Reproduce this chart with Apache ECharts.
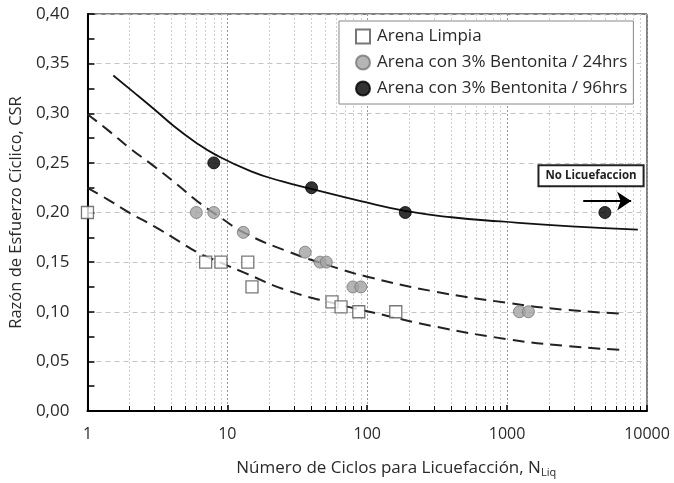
<!DOCTYPE html>
<html>
<head>
<meta charset="utf-8">
<script src="https://cdn.jsdelivr.net/npm/echarts@6/dist/echarts.min.js"></script>
<style>
  html, body { margin: 0; padding: 0; background: #fff; }
  #chart { width: 674px; height: 483px; }
</style>
</head>
<body>
<div id="chart"></div>
<script>
// Test results: [N cycles to liquefaction, CSR]
const arenaLimpia = [[1, 0.20], [7, 0.15], [9, 0.15], [14, 0.15], [15, 0.125], [56, 0.11], [65, 0.105], [87, 0.10], [160, 0.10]];
const bentonita24 = [[6, 0.20], [8, 0.20], [13, 0.18], [36, 0.16], [46, 0.15], [51, 0.15], [79, 0.125], [90, 0.125], [1225, 0.10], [1420, 0.10]];
const bentonita96 = [[8, 0.25], [40, 0.225], [187, 0.20], [5000, 0.20]];

// Trend curves
const curve96 = [[1.53, 0.338], [2.18, 0.3203], [3.03, 0.3035], [4.2, 0.2864], [5.84, 0.2714], [8.1, 0.2588], [14.8, 0.2415], [24.7, 0.2313], [40.5, 0.2235], [90, 0.2114], [187, 0.2016], [400, 0.1952], [900, 0.191], [2870, 0.186], [8600, 0.1827]];
const curve24 = [[1, 0.299], [1.4, 0.283], [2, 0.265], [3, 0.2465], [4.4, 0.228], [6.1, 0.2114], [9, 0.1947], [13.2, 0.1796], [26.8, 0.161], [55, 0.146], [100, 0.1353], [300, 0.1205], [1000, 0.109], [2600, 0.102], [7000, 0.098]];
const curveLimpia = [[1, 0.2248], [1.4, 0.213], [2, 0.1997], [3, 0.186], [4.4, 0.172], [6.1, 0.160], [9, 0.1494], [13.2, 0.1394], [26.8, 0.1215], [58, 0.1085], [140, 0.0958], [290, 0.0857], [1000, 0.0724], [2600, 0.0656], [7000, 0.0613]];

// "No Licuefaccion" arrow and label anchor
const arrowFrom = [3500, 0.2115];
const arrowTo = [7700, 0.2115];
const noLiqLabelAt = [3980, 0.237];

const seriesNames = ['Arena Limpia', 'Arena con 3% Bentonita / 24hrs', 'Arena con 3% Bentonita / 96hrs'];
const xTickLabels = { 1: '1', 10: '10', 100: '100', 1000: '1000', 10000: '10000' };

const FONT = 'Open Sans';
const INK = '#2a2a2a';
const chart = echarts.init(document.getElementById('chart'), null, { renderer: 'canvas' });

const dashed = { color: '#222', width: 2, type: [12, 7] };

chart.setOption({
  animation: false,
  backgroundColor: '#fff',
  textStyle: { fontFamily: FONT },
  grid: { left: 86, right: 27, top: 14, bottom: 71, show: true, borderColor: '#000', borderWidth: 1, backgroundColor: 'transparent' },
  legend: {
    left: 339, top: 21, orient: 'vertical',
    padding: [6, 6, 6, 16],
    itemGap: 7, itemWidth: 14, itemHeight: 14,
    backgroundColor: '#fff', borderColor: '#888', borderWidth: 1,
    textStyle: { fontFamily: FONT, fontSize: 17, lineHeight: 19, color: INK, padding: [0, 0, 0, 2] },
    data: seriesNames
  },
  xAxis: {
    type: 'log', logBase: 10, min: 1, max: 10000,
    name: 'Número de Ciclos para Licuefacción, {sub|N}{s|Liq}',
    nameLocation: 'middle', nameGap: 48,
    nameTextStyle: {
      fontFamily: FONT, fontSize: 17, color: INK, padding: [0, 0, 0, 58],
      rich: {
        sub: { fontFamily: FONT, fontSize: 17, color: INK },
        s: { fontFamily: FONT, fontSize: 11, color: INK, verticalAlign: 'bottom', padding: [8, 0, 0, 0] }
      }
    },
    axisLine: { show: true, lineStyle: { color: '#000', width: 2 } },
    axisTick: { show: true, inside: true, length: 6, lineStyle: { color: '#000', width: 1.5 } },
    minorTick: { show: true, splitNumber: 9, length: 5, lineStyle: { color: '#000', width: 1 } },
    axisLabel: { fontFamily: FONT, fontSize: 16, color: INK, margin: 15, formatter: v => xTickLabels[Math.round(v)] || String(Math.round(v)) },
    splitLine: { show: true, lineStyle: { color: '#999', width: 1, type: [2, 2] } },
    minorSplitLine: { show: true, lineStyle: { color: '#d0d0d0', width: 1, type: [2, 2] } }
  },
  yAxis: {
    type: 'value', min: 0, max: 0.40, interval: 0.05,
    name: 'Razón de Esfuerzo Cíclico, CSR',
    nameLocation: 'middle', nameGap: 60,
    nameTextStyle: { fontFamily: FONT, fontSize: 16.5, color: INK },
    axisLine: { show: true, lineStyle: { color: '#000', width: 2 } },
    axisTick: { show: true, inside: true, length: 7, lineStyle: { color: '#000', width: 1.5 } },
    minorTick: { show: true, splitNumber: 2, length: 7, lineStyle: { color: '#000', width: 1.5 } },
    axisLabel: { fontFamily: FONT, fontSize: 17, color: INK, margin: 18, formatter: v => v.toFixed(2).replace('.', ',') },
    splitLine: { show: true, lineStyle: { color: '#c4c4c4', width: 1, type: [5, 4] } }
  },
  series: [
    { type: 'line', data: curve96, smooth: true, showSymbol: false, symbol: 'none', lineStyle: { color: '#111', width: 1.8 }, silent: true, z: 2 },
    { type: 'line', data: curve24, smooth: true, showSymbol: false, symbol: 'none', lineStyle: dashed, silent: true, z: 2 },
    { type: 'line', data: curveLimpia, smooth: true, showSymbol: false, symbol: 'none', lineStyle: dashed, silent: true, z: 2,
      markLine: {
        silent: true, symbol: ['none', 'arrow'], symbolSize: [14, 14],
        lineStyle: { color: '#000', width: 2.2, type: 'solid' },
        label: { show: false },
        data: [[{ coord: arrowFrom }, { coord: arrowTo }]]
      }
    },
    { name: seriesNames[0], type: 'scatter', data: arenaLimpia, symbol: 'rect', symbolSize: 12,
      itemStyle: { color: '#fff', borderColor: '#555', borderWidth: 1.3 }, z: 5 },
    { name: seriesNames[1], type: 'scatter', data: bentonita24, symbol: 'circle', symbolSize: 12,
      itemStyle: { color: '#a3a3a3', borderColor: '#777', borderWidth: 1 }, z: 5 },
    { name: seriesNames[2], type: 'scatter', data: bentonita96, symbol: 'circle', symbolSize: 12,
      itemStyle: { color: '#000', borderColor: '#000', borderWidth: 1 }, z: 5 }
  ]
});

// Boxed "No Licuefaccion" note
const p = chart.convertToPixel({ gridIndex: 0 }, noLiqLabelAt);
chart.setOption({
  graphic: [{
    type: 'text', x: p[0], y: p[1], z: 10,
    style: {
      text: 'No Licuefaccion', fontFamily: FONT, fontSize: 11.5, fontWeight: 'bold', fill: '#222',
      align: 'center', verticalAlign: 'middle',
      backgroundColor: '#fff', borderColor: '#222', borderWidth: 2, padding: [4, 6, 3, 6]
    }
  }]
});
</script>
</body>
</html>
